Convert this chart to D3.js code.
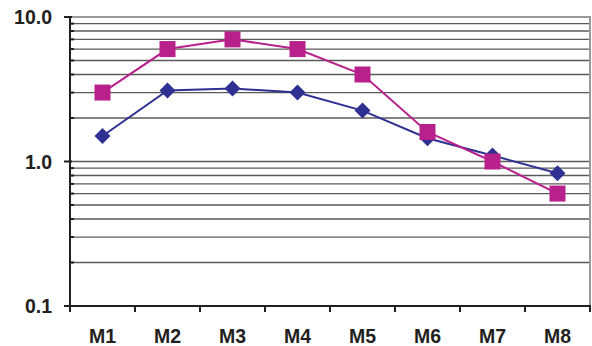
<!DOCTYPE html>
<html>
<head>
<meta charset="utf-8">
<script src="https://cdn.jsdelivr.net/npm/d3@7"></script>
<style>
  html, body { margin: 0; padding: 0; background: #fff; }
  svg { display: block; }
  text { font-family: "Liberation Sans", Arial, sans-serif; font-weight: bold; fill: #231f20; }
</style>
</head>
<body>
<svg id="chart" width="592" height="346"></svg>
<script>
// Categories and the two series plotted on a log axis
const categories = ["M1", "M2", "M3", "M4", "M5", "M6", "M7", "M8"];
const seriesDiamond = [1.5, 3.1, 3.2, 3.0, 2.25, 1.45, 1.1, 0.83];
const seriesSquare  = [3.0, 6.0, 7.0, 6.0, 4.0, 1.6, 1.0, 0.6];
const yTickValues = [0.1, 1, 10];
const yTickLabels = ["0.1", "1.0", "10.0"];

const svg = d3.select("#chart");
const plotLeft = 70, plotRight = 590, plotTop = 17, plotBottom = 306;

const x = d3.scaleBand().domain(categories).range([plotLeft, plotRight]).padding(0);
const y = d3.scaleLog().domain([0.1, 10]).range([plotBottom, plotTop]);

// minor gridlines at every 1..9 step inside each decade
const gridValues = [];
[0.1, 1].forEach(d => { for (let k = 2; k <= 10; k++) gridValues.push(d * k); });
const minorTicks = gridValues.filter(v => Math.abs(v - 1) > 1e-9 && Math.abs(v - 10) > 1e-9);

svg.append("g")
  .selectAll("line")
  .data(gridValues.filter(v => v < 9.99))
  .join("line")
  .attr("x1", plotLeft).attr("x2", plotRight)
  .attr("y1", d => y(d)).attr("y2", d => y(d))
  .attr("stroke", "#5a5a5a").attr("stroke-width", 1.3);

// plot frame: top and right edges
svg.append("path")
  .attr("d", `M${plotLeft},${y(10)}H${plotRight}V${plotBottom}`)
  .attr("fill", "none").attr("stroke", "#9a9a9a").attr("stroke-width", 2);

// y axis: major ticks with labels, minor ticks without
const yAxis = svg.append("g");
yAxis.append("line")
  .attr("x1", plotLeft).attr("x2", plotLeft).attr("y1", plotTop).attr("y2", plotBottom)
  .attr("stroke", "#231f20").attr("stroke-width", 2);
yAxis.selectAll("line.major")
  .data(yTickValues).join("line").attr("class", "major")
  .attr("x1", plotLeft - 6).attr("x2", plotLeft + 2)
  .attr("y1", d => y(d)).attr("y2", d => y(d))
  .attr("stroke", "#231f20").attr("stroke-width", 2);
yAxis.selectAll("line.minor")
  .data(minorTicks).join("line").attr("class", "minor")
  .attr("x1", plotLeft - 1).attr("x2", plotLeft + 4)
  .attr("y1", d => y(d)).attr("y2", d => y(d))
  .attr("stroke", "#231f20").attr("stroke-width", 2);
yAxis.selectAll("text")
  .data(yTickValues).join("text")
  .attr("x", 52).attr("y", d => y(d)).attr("dy", "0.36em")
  .attr("text-anchor", "end")
  .style("font-size", "19.5px")
  .text((d, i) => yTickLabels[i]);

// x axis
const xAxis = svg.append("g");
xAxis.append("line")
  .attr("x1", plotLeft - 1).attr("x2", plotRight + 1).attr("y1", plotBottom).attr("y2", plotBottom)
  .attr("stroke", "#231f20").attr("stroke-width", 2);
const boundaries = categories.map(c => x(c)).concat([x(categories[categories.length - 1]) + x.bandwidth()]);
xAxis.selectAll("line.tick")
  .data(boundaries).join("line").attr("class", "tick")
  .attr("x1", d => d).attr("x2", d => d)
  .attr("y1", plotBottom).attr("y2", plotBottom + 6)
  .attr("stroke", "#231f20").attr("stroke-width", 2);
xAxis.selectAll("text")
  .data(categories).join("text")
  .attr("x", d => x(d) + x.bandwidth() / 2)
  .attr("y", 343)
  .attr("text-anchor", "middle")
  .style("font-size", "19.5px")
  .text(d => d);

const cx = (d, i) => x(categories[i]) + x.bandwidth() / 2;
const line = d3.line().x(cx).y(d => y(d));

// diamond series
const blue = "#2e3192";
svg.append("path").datum(seriesDiamond)
  .attr("d", line).attr("fill", "none").attr("stroke", blue).attr("stroke-width", 2);
svg.append("g").selectAll("path")
  .data(seriesDiamond).join("path")
  .attr("transform", (d, i) => `translate(${cx(d, i)},${y(d)})`)
  .attr("d", "M0,-8L8,0L0,8L-8,0Z")
  .attr("fill", blue);

// square series
const pink = "#b8208b";
svg.append("path").datum(seriesSquare)
  .attr("d", line).attr("fill", "none").attr("stroke", pink).attr("stroke-width", 2);
svg.append("g").selectAll("rect")
  .data(seriesSquare).join("rect")
  .attr("x", (d, i) => cx(d, i) - 8).attr("y", d => y(d) - 8)
  .attr("width", 16).attr("height", 16)
  .attr("fill", pink);
</script>
</body>
</html>
